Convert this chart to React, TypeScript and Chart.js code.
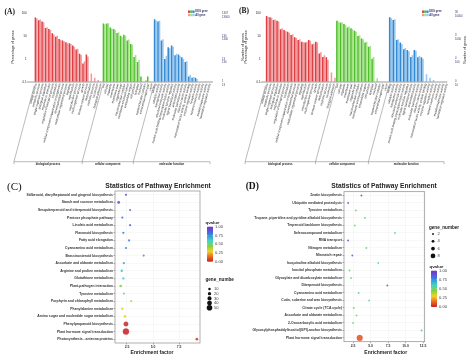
import React, { useEffect, useRef } from 'react';
import { Chart, registerables } from 'chart.js';
Chart.register(...registerables);

const SANS = "'Liberation Sans', Arial, sans-serif";
const SERIF = "'Liberation Serif', 'Times New Roman', serif";

// ---------- GO panels (A, B) ----------
const bpTerms = ['cellular process', 'metabolic process', 'single-organism process', 'biological regulation', 'response to stimulus', 'regulation of biological process', 'localization', 'cellular component organization or biogenesis', 'developmental process', 'multicellular organismal process', 'signaling', 'reproduction', 'reproductive process', 'multi-organism process', 'growth', 'immune system process', 'detoxification', 'rhythmic process', 'locomotion', 'biological adhesion'];
const ccTerms = ['cell', 'cell part', 'organelle', 'membrane', 'membrane part', 'organelle part', 'macromolecular complex', 'membrane-enclosed lumen', 'extracellular region', 'cell junction', 'symplast', 'nucleoid', 'supramolecular complex', 'extracellular region part', 'virion'];
const mfTerms = ['binding', 'catalytic activity', 'transporter activity', 'structural molecule activity', 'nucleic acid binding transcription factor activity', 'molecular function regulator', 'signal transducer activity', 'antioxidant activity', 'molecular transducer activity', 'electron carrier activity', 'transcription factor activity, protein binding', 'enzyme regulator activity', 'receptor activity', 'nutrient reservoir activity', 'toxin activity', 'metallochaperone activity', 'translation regulator activity'];
const groupNames = ['biological process', 'cellular component', 'molecular function'];

const degA_bp = [67, 51, 45, 23, 21, 13.5, 9.7, 7.6, 6.5, 5.5, 5.0, 3.9, 2.6, 1.7, 0.63, 1.6, null, null, null, null];
const allA_bp = [62, 55, 42, 25, 19, 12, 10.5, 7, 6, 5, 4.6, 3.5, 2.8, 1.5, 0.8, 1.3, 0.23, 0.15, 0.12, null];
const degA_cc = [36.8, 36.8, 24.6, 20.8, 14, 10.7, 11.8, 6.5, 4.6, 1.22, 0.74, 0.17, null, 0.17, null];
const allA_cc = [34, 38, 22, 19, 15, 9.5, 10.5, 7.2, 4.2, 1.5, 0.9, null, 0.12, null, null];
const degA_mf = [56, 45, 6.5, 1.0, 3.3, 3.9, 1.45, 1.6, 1.2, 0.74, 0.17, 0.15, 0.15, null, null, null, null];
const allA_mf = [50, 48, 7.5, 1.4, 3.0, 3.5, 1.7, 1.4, 1.0, 0.8, 0.2, 0.16, 0.13, null, null, null, null];

const degB_bp = [72, 63, 48, 45, 19, 17.6, 14.9, 10.7, 8.5, 6.5, 5.5, 5.0, 6.5, 4.3, 5.5, 1.7, 1.2, 1.15, null, null];
const allB_bp = [66, 60, 50, 41, 21, 16, 13.5, 11.5, 8, 7, 5.2, 5.4, 6, 4.6, 5, 1.9, 1.4, 0.9, 0.25, 0.15];
const degB_cc = [45, 36.7, 32, 23, 21, 16.5, 9.7, 7.6, 5.0, 3.3, 1.0, null, null, null, null];
const allB_cc = [41, 38, 30, 25, 19, 15, 10.5, 7, 5.5, 3.6, 1.2, 0.14, null, null, null];
const degB_mf = [63, 48, 6.5, 5.0, 2.6, 2.4, 1.2, 2.4, 1.15, 1.15, null, null, null, null, null, null, null];
const allB_mf = [58, 52, 7, 4.4, 2.9, 2.1, 1.4, 2.2, 1.3, 1.0, 0.21, 0.15, 0.12, null, null, null, null];

const percentTicks = [0.1, 1, 10, 100];
const percentTickLabels = ['0.1', '1', '10', '100'];
const rightLabelsA = [['1', '13'], ['13', '130'], ['130', '1300'], ['1307', '13000']];
const rightLabelsB = [['0', '10'], ['0', '100'], ['3', '1000'], ['36', '10000']];

const groupDeg = ['#de3f45', '#4fbe2e', '#3588d2'];
const groupAll = ['#f19a9c', '#a5e386', '#96c8f1'];

// ---------- KEGG panels (C, D) ----------
const pathwaysC = ['Stilbenoid, diarylheptanoid and gingerol biosynthesis', 'Starch and sucrose metabolism', 'Sesquiterpenoid and triterpenoid biosynthesis', 'Pentose phosphate pathway', 'Linoleic acid metabolism', 'Flavonoid biosynthesis', 'Fatty acid elongation', 'Cyanoamino acid metabolism', 'Brassinosteroid biosynthesis', 'Ascorbate and aldarate metabolism', 'Arginine and proline metabolism', 'Glutathione metabolism', 'Plant-pathogen interaction', 'Tyrosine metabolism', 'Porphyrin and chlorophyll metabolism', 'Phenylalanine metabolism', 'Amino sugar and nucleotide sugar metabolism', 'Phenylpropanoid biosynthesis', 'Plant hormone signal transduction', 'Photosynthesis - antenna proteins'];
const richC = [2.4, 1.7, 2.8, 2.05, 2.8, 2.15, 2.7, 2.4, 4.1, 2.2, 2.0, 2.15, 1.9, 2.2, 2.9, 2.05, 2.3, 2.4, 2.4, 9.2];
const genesC = [6, 14, 5, 6, 5, 6, 5, 5, 4, 7, 8, 8, 12, 4, 6, 9, 11, 35, 55, 12];
const qC = [0.9, 0.95, 0.85, 0.8, 0.85, 0.8, 0.8, 0.8, 0.75, 0.7, 0.65, 0.6, 0.45, 0.5, 0.35, 0.3, 0.3, 0.02, 0.0, 0.05];
const xTicksC = [2.5, 5.0, 7.5];
const sizeLegendC = [10, 20, 30, 40, 50];

const pathwaysD = ['Zeatin biosynthesis', 'Ubiquitin mediated proteolysis', 'Tyrosine metabolism', 'Tropane, piperidine and pyridine alkaloid biosynthesis', 'Terpenoid backbone biosynthesis', 'Selenocompound metabolism', 'RNA transport', 'Nitrogen metabolism', 'Mismatch repair', 'Isoquinoline alkaloid biosynthesis', 'Inositol phosphate metabolism', 'Glyoxylate and dicarboxylate metabolism', 'Diterpenoid biosynthesis', 'Cyanoamino acid metabolism', 'Cutin, suberine and wax biosynthesis', 'Citrate cycle (TCA cycle)', 'Ascorbate and aldarate metabolism', '2-Oxocarboxylic acid metabolism', 'Glycosylphosphatidylinositol(GPI)-anchor biosynthesis', 'Plant hormone signal transduction'];
const richD = [3.7, 1.8, 2.9, 4.2, 2.75, 8.5, 1.8, 4.4, 2.4, 6.1, 2.0, 2.2, 7.4, 3.3, 4.8, 2.6, 3.0, 2.5, 12.3, 3.45];
const genesD = [2, 2, 2, 2, 2, 2, 2, 2, 2, 2, 2, 2, 2, 2, 2, 2, 2, 2, 2, 10];
const qD = [0.95, 0.95, 0.5, 0.55, 0.5, 0.6, 0.95, 0.55, 0.9, 0.6, 0.5, 0.5, 0.9, 0.55, 0.6, 0.5, 0.5, 0.5, 0.65, 0.1];
const xTicksD = [2.5, 5.0, 7.5, 10.0, 12.5];
const sizeLegendD = [2, 4, 6, 8];

const qLegend = [1.0, 0.75, 0.5, 0.25, 0.0];
const qStops: [number, number[]][] = [[0, [196, 32, 38]], [0.15, [236, 110, 30]], [0.3, [240, 210, 40]], [0.45, [130, 210, 60]], [0.6, [60, 215, 200]], [0.8, [60, 120, 230]], [1, [125, 45, 200]]];

function qRgb(q: number) {
  for (let i = 1; i < qStops.length; i++) {
    const [p0, c0] = qStops[i - 1];
    const [p1, c1] = qStops[i];
    if (q <= p1) {
      const t = (q - p0) / (p1 - p0);
      return c0.map((v, k) => Math.round(v + (c1[k] - v) * t));
    }
  }
  return qStops[qStops.length - 1][1];
}
function qColor(q: number, a: number) {
  const [r, g, b] = qRgb(q);
  return `rgba(${r},${g},${b},${a})`;
}

function txt(ctx: CanvasRenderingContext2D, s: string, x: number, y: number, font: string, color: string, align: CanvasTextAlign = 'left', base: CanvasTextBaseline = 'middle', rot = 0) {
  ctx.save();
  ctx.translate(x, y);
  if (rot) ctx.rotate(rot);
  ctx.font = font;
  ctx.fillStyle = color;
  ctx.textAlign = align;
  ctx.textBaseline = base;
  ctx.fillText(s, 0, 0);
  ctx.restore();
}
function line(ctx: CanvasRenderingContext2D, x1: number, y1: number, x2: number, y2: number) {
  ctx.beginPath();
  ctx.moveTo(x1, y1);
  ctx.lineTo(x2, y2);
  ctx.stroke();
}

function groupColors(cols: string[], sizes: number[]) {
  const out: string[] = [];
  sizes.forEach((n, g) => { for (let i = 0; i < n; i++) out.push(cols[g]); });
  return out;
}

const goDecor = (cfg: any) => ({
  id: 'goDecor',
  afterDraw(chart: any) {
    const { ctx, chartArea } = chart;
    const x = chart.scales.x;
    const cw = x.getPixelForValue(1) - x.getPixelForValue(0);
    const sizes = [bpTerms.length, ccTerms.length, mfTerms.length];
    ctx.save();
    ctx.strokeStyle = '#555';
    ctx.lineWidth = 0.6;
    line(ctx, cfg.baseL, chartArea.bottom + 0.3, cfg.baseR, chartArea.bottom + 0.3);
    const topY = chartArea.bottom + cfg.bracketTop;
    const botY = cfg.bracketBottom;
    const k = 1 / Math.tan((75 * Math.PI) / 180);
    ctx.strokeStyle = '#777';
    ctx.lineWidth = 0.5;
    let idx = 0;
    const xs: number[] = [];
    sizes.forEach((n) => {
      const bx = x.getPixelForValue(idx) - cw / 2;
      const ex = bx - (botY - topY) * k;
      line(ctx, bx, topY, ex, botY);
      xs.push(ex);
      idx += n;
    });
    xs.push(cfg.bracketRight);
    line(ctx, xs[0], botY, cfg.bracketRight, botY);
    xs.forEach((v) => line(ctx, v, botY, v, botY + 2.5));
    groupNames.forEach((nm, g) => txt(ctx, nm, (xs[g] + xs[g + 1]) / 2, botY + 2.9, `bold 2.8px ${SANS}`, '#222', 'center'));
    cfg.leftTitles.forEach((t: any) => txt(ctx, t.s, t.x, t.y, `3.6px ${SANS}`, '#222', 'center', 'middle', -Math.PI / 2));
    (cfg.rightTitles || []).forEach((t: any) => txt(ctx, t.s, t.x, t.y, `3.6px ${SANS}`, '#222', 'center', 'middle', -Math.PI / 2));
    const lx = cfg.legendX;
    [[groupDeg, 'DEG gene', 11.7], [groupAll, 'All gene', 15]].forEach(([cols, label, ly]: any) => {
      cols.forEach((c: string, i: number) => { ctx.fillStyle = c; ctx.fillRect(lx + i * 2.2, ly - 1.2, 2.2, 2.4); });
      txt(ctx, label, lx + 7.3, ly, `bold 2.6px ${SANS}`, '#33336a');
    });
    txt(ctx, cfg.letter, cfg.letterX, cfg.letterY, `bold 7.5px ${SERIF}`, '#111');
    ctx.restore();
  },
});

function makeGoChart(canvas: HTMLCanvasElement, cfg: any) {
  const labels = [...bpTerms, ...ccTerms, ...mfTerms];
  const sizes = [bpTerms.length, ccTerms.length, mfTerms.length];
  return new Chart(canvas, {
    type: 'bar',
    data: {
      labels,
      datasets: [
        { label: 'DEG gene', data: cfg.deg, backgroundColor: groupColors(groupDeg, sizes), categoryPercentage: 0.9, barPercentage: 1, yAxisID: 'y' },
        { label: 'All gene', data: cfg.all, backgroundColor: groupColors(groupAll, sizes), categoryPercentage: 0.9, barPercentage: 1, yAxisID: 'y' },
      ],
    },
    options: {
      animation: false,
      responsive: false,
      maintainAspectRatio: false,
      events: [],
      layout: { padding: { top: cfg.top, left: 0, right: 0, bottom: 0 } },
      plugins: { legend: { display: false }, tooltip: { enabled: false }, title: { display: false } },
      scales: {
        x: {
          type: 'category',
          grid: { display: false, drawTicks: false },
          border: { display: false },
          ticks: { autoSkip: false, minRotation: 75, maxRotation: 75, padding: 1.5, color: '#1e1e1e', font: { family: SANS, size: 3 } },
          afterFit: (s: any) => { s.height = cfg.xh; s.paddingLeft = 0; s.paddingRight = 0; },
        },
        y: {
          type: 'logarithmic', position: 'left', min: 0.1, max: 100,
          grid: { display: false, drawTicks: false },
          border: { display: false },
          afterBuildTicks: (s: any) => { s.ticks = percentTicks.map((v) => ({ value: v })); },
          ticks: { padding: cfg.lp, color: '#222', font: { family: SANS, size: 3 }, callback: (_v: any, i: number) => percentTickLabels[i] },
          afterFit: (s: any) => { s.width = cfg.lw; },
        },
        y2: {
          type: 'logarithmic', position: 'right', min: 0.1, max: 100,
          grid: { display: false, drawTicks: false },
          border: { display: false },
          afterBuildTicks: (s: any) => { s.ticks = percentTicks.map((v) => ({ value: v })); },
          ticks: { padding: cfg.rp, color: '#33336a', labelOffset: 1.6, font: { family: SANS, size: 2.7, lineHeight: 1.2 }, callback: (_v: any, i: number) => cfg.rightLabels[i] },
          afterFit: (s: any) => { s.width = cfg.rw; },
        },
      },
    } as any,
    plugins: [goDecor(cfg)],
  });
}

const enrichDecor = (cfg: any) => ({
  id: 'enrichDecor',
  afterDraw(chart: any) {
    const { ctx, chartArea } = chart;
    ctx.save();
    ctx.strokeStyle = '#8c8c8c';
    ctx.lineWidth = 0.7;
    ctx.strokeRect(chartArea.left, chartArea.top, chartArea.right - chartArea.left, chartArea.bottom - chartArea.top);
    txt(ctx, 'Statistics of Pathway Enrichment', cfg.titleX, 6.2, `bold 6.7px ${SANS}`, '#222', 'center');
    txt(ctx, 'Enrichment factor', cfg.xtitleX, cfg.xtitleY, `bold 5px ${SANS}`, '#222', 'center');
    txt(ctx, cfg.letter, cfg.letterX, cfg.letterY, cfg.letterFont, '#111');
    const qb = cfg.qbar;
    txt(ctx, 'qvalue', qb.x - 1.5, qb.top - 4, `bold 4.4px ${SANS}`, '#222');
    const grad = ctx.createLinearGradient(0, qb.bottom, 0, qb.top);
    qStops.forEach(([p, c]) => grad.addColorStop(p, `rgb(${c[0]},${c[1]},${c[2]})`));
    ctx.fillStyle = grad;
    ctx.fillRect(qb.x, qb.top, 6, qb.bottom - qb.top);
    ctx.strokeStyle = 'rgba(255,255,255,0.9)';
    ctx.lineWidth = 0.4;
    qLegend.forEach((q) => {
      const y = qb.bottom - q * (qb.bottom - qb.top);
      line(ctx, qb.x, y, qb.x + 1.2, y);
      line(ctx, qb.x + 4.8, y, qb.x + 6, y);
      txt(ctx, q.toFixed(2), qb.x + 8, y, `4.1px ${SANS}`, '#444');
    });
    const gl = cfg.glegend;
    txt(ctx, 'gene_number', gl.x - 1.5, gl.titleY, `bold 4.6px ${SANS}`, '#222');
    cfg.sizeLegend.forEach((n: number, i: number) => {
      const y = gl.y0 + i * gl.dy;
      ctx.fillStyle = '#111';
      ctx.beginPath();
      ctx.arc(gl.x + 2.5, y, cfg.rad(n), 0, Math.PI * 2);
      ctx.fill();
      txt(ctx, String(n), gl.x + 7, y, `4.1px ${SANS}`, '#444');
    });
    ctx.restore();
  },
});

function makeEnrichChart(canvas: HTMLCanvasElement, cfg: any) {
  const pts = cfg.paths.map((p: string, i: number) => ({ x: cfg.rich[i], y: p, r: cfg.rad(cfg.genes[i]) }));
  return new Chart(canvas, {
    type: 'bubble',
    data: {
      datasets: [{
        data: pts,
        backgroundColor: cfg.q.map((q: number) => qColor(q, 0.85)),
        borderColor: cfg.q.map((q: number, i: number) => (cfg.genes[i] >= cfg.haloMin ? qColor(q, 0.35) : 'rgba(0,0,0,0)')),
        borderWidth: cfg.genes.map((g: number) => (g >= cfg.haloMin ? 1 : 0)),
      }],
    },
    options: {
      animation: false,
      responsive: false,
      maintainAspectRatio: false,
      events: [],
      layout: { padding: { top: cfg.top, right: cfg.right, left: 0, bottom: 0 } },
      plugins: { legend: { display: false }, tooltip: { enabled: false } },
      scales: {
        x: {
          type: 'linear', min: cfg.xmin, max: cfg.xmax,
          grid: { color: '#f1f1f1', lineWidth: 0.5, tickLength: 1.5, tickColor: '#555', tickWidth: 0.5 },
          border: { display: false },
          afterBuildTicks: (s: any) => { s.ticks = cfg.xticks.map((v: number) => ({ value: v })); },
          ticks: { padding: 0.8, color: '#333', font: { family: SANS, size: 3.4, weight: 'bold' }, callback: (_v: any, i: number) => cfg.xticks[i].toFixed(1) },
          afterFit: (s: any) => { s.height = cfg.xh; },
        },
        y: {
          type: 'category', labels: cfg.paths, offset: true,
          grid: { color: '#f1f1f1', lineWidth: 0.5, tickLength: 1.5, tickColor: '#555', tickWidth: 0.5 },
          border: { display: false },
          ticks: { autoSkip: false, padding: 0.6, color: '#333', font: { family: SANS, size: 3.4, weight: 'bold' } },
          afterFit: (s: any) => { s.width = cfg.yw; },
        },
      },
    } as any,
    plugins: [enrichDecor(cfg)],
  });
}

const cfgA = {
  deg: [...degA_bp, ...degA_cc, ...degA_mf], all: [...allA_bp, ...allA_cc, ...allA_mf],
  rightLabels: rightLabelsA, top: 12.7, xh: 98.3, lw: 34.3, rw: 22.4, lp: 7.6, rp: 10.4,
  baseL: 27, baseR: 213, bracketTop: 4, bracketBottom: 161.7, bracketRight: 210,
  leftTitles: [{ s: 'Percentage of genes', x: 12.5, y: 47 }], rightTitles: [],
  legendX: 188, letter: '(A)', letterX: 4.5, letterY: 12.3,
};
const cfgB = {
  deg: [...degB_bp, ...degB_cc, ...degB_mf], all: [...allB_bp, ...allB_cc, ...allB_mf],
  rightLabels: rightLabelsB, top: 12.7, xh: 98.3, lw: 31.5, rw: 19.4, lp: 4.8, rp: 6.4,
  baseL: 26.7, baseR: 213.3, bracketTop: 4, bracketBottom: 161.7, bracketRight: 210,
  leftTitles: [{ s: 'Number of genes', x: 9, y: 47 }, { s: 'Percentage of genes', x: 12.4, y: 47 }],
  rightTitles: [{ s: 'Number of genes', x: 230.5, y: 50 }],
  legendX: 188, letter: '(B)', letterX: 5, letterY: 11.5,
};
const cfgC = {
  paths: pathwaysC, rich: richC, genes: genesC, q: qC, xticks: xTicksC, sizeLegend: sizeLegendC,
  rad: (n: number) => 0.9 + n * 0.038, haloMin: 30,
  xmin: 1.35, xmax: 9.5, top: 11, right: 34, xh: 19, yw: 115,
  titleX: 158, xtitleX: 152, xtitleY: 173,
  letter: '(C)', letterX: 7, letterY: 7.3, letterFont: `11px ${SERIF}`,
  qbar: { x: 207, top: 46.7, bottom: 81.7 },
  glegend: { x: 207, titleY: 100, y0: 109, dy: 4.7 },
};
const cfgD = {
  paths: pathwaysD, rich: richD, genes: genesD, q: qD, xticks: xTicksD, sizeLegend: sizeLegendD,
  rad: (n: number) => 0.45 + n * 0.24, haloMin: 8,
  xmin: 1.21, xmax: 12.74, top: 11.7, right: 43.3, xh: 20.3, yw: 110,
  titleX: 150, xtitleX: 151.7, xtitleY: 172.7,
  letter: '(D)', letterX: 11.7, letterY: 7, letterFont: `bold 9.5px ${SERIF}`,
  qbar: { x: 197, top: 90.7, bottom: 127 },
  glegend: { x: 196.5, titleY: 47.3, y0: 54, dy: 7.3 },
};

export default function App() {
  const a = useRef<HTMLCanvasElement>(null);
  const b = useRef<HTMLCanvasElement>(null);
  const c = useRef<HTMLCanvasElement>(null);
  const d = useRef<HTMLCanvasElement>(null);
  useEffect(() => {
    const charts = [
      makeGoChart(a.current!, cfgA),
      makeGoChart(b.current!, cfgB),
      makeEnrichChart(c.current!, cfgC),
      makeEnrichChart(d.current!, cfgD),
    ];
    return () => charts.forEach((ch) => ch.destroy());
  }, []);
  const st = (l: number, t: number, h: number): React.CSSProperties => ({ position: 'absolute', left: l, top: t, width: 234, height: h });
  return (
    <div style={{ position: 'absolute', left: 0, top: 0, width: 468, height: 362, background: '#fff', overflow: 'hidden' }}>
      <canvas ref={a} width={234} height={180} style={st(0, 0, 180)} />
      <canvas ref={b} width={234} height={180} style={st(234, 0, 180)} />
      <canvas ref={c} width={234} height={182} style={st(0, 180, 182)} />
      <canvas ref={d} width={234} height={182} style={st(234, 180, 182)} />
    </div>
  );
}
